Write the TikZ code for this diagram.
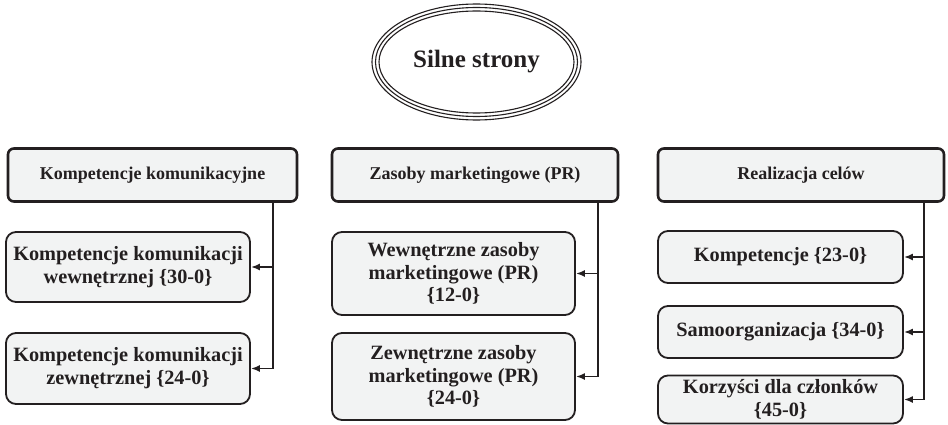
\documentclass[tikz,border=0pt]{standalone}
\usepackage{fontspec}
\setmainfont{Liberation Serif}
\usetikzlibrary{shapes.geometric,arrows.meta}
\definecolor{boxgray}{RGB}{242,243,243}
\definecolor{ink}{RGB}{35,31,32}

\begin{document}
\begin{tikzpicture}[x=1pt,y=-1pt,
  head/.style={rectangle,rounded corners=6pt,draw=ink,line width=2.6pt,fill=boxgray,
    minimum height=53pt,font=\bfseries\fontsize{18}{21}\selectfont,text=ink},
  item/.style={rectangle,rounded corners=10pt,draw=ink,line width=1.8pt,fill=boxgray,
    minimum width=244pt,align=center,inner ysep=1pt,font=\bfseries\fontsize{20.3}{22.8}\selectfont,text=ink},
  link/.style={draw=ink,line width=1.8pt,-{Latex[length=9pt,width=7pt]}}]
\useasboundingbox (0,0) rectangle (948,425);
% top
\node[ellipse,draw=ink,line width=1.1pt,minimum width=209pt,minimum height=116pt,
  font=\bfseries\fontsize{25}{28}\selectfont,text=ink] at (476.5,62) (silne) {Silne strony};
\draw[ink,line width=1.1pt] (silne.center) ellipse (101pt and 54.5pt);
\draw[ink,line width=1.1pt] (silne.center) ellipse (97.5pt and 51pt);
% headers
\node[head,minimum width=289pt] at (152.5,175) (komp) {Kompetencje komunikacyjne};
\node[head,minimum width=286pt] at (475,175) (zas) {Zasoby marketingowe (PR)};
\node[head,minimum width=286pt] at (801,175) (real) {Realizacja celów};
% left column
\node[item,minimum height=70pt] at (128,267) (kw) {Kompetencje komunikacji\\wewnętrznej \{30-0\}};
\node[item,minimum height=71pt] at (128,368.5) (kz) {Kompetencje komunikacji\\zewnętrznej \{24-0\}};
% middle column
\node[item,minimum width=243pt,minimum height=83pt] at (453.5,273.5) (zw) {Wewnętrzne zasoby\\marketingowe (PR)\\\{12-0\}};
\node[item,minimum width=243pt,minimum height=87pt] at (453.5,376.5) (zz) {Zewnętrzne zasoby\\marketingowe (PR)\\\{24-0\}};
% right column
\node[item,minimum width=245pt,minimum height=52pt] at (780.5,257) (rk) {Kompetencje \{23-0\}};
\node[item,minimum width=245pt,minimum height=52pt] at (780.5,332) (rs) {Samoorganizacja \{34-0\}};
\node[item,minimum width=245pt,minimum height=48pt] at (780.5,399.5) (rc) {Korzyści dla członków\\\{45-0\}};
% connectors
\coordinate (kompT) at (273,201);
\coordinate (zasT) at (598,201);
\coordinate (realT) at (924,201);
\draw[link] (kompT) |- (kw.east);
\draw[link] (kompT) |- (kz.east);
\draw[link] (zasT) |- (zw.east);
\draw[link] (zasT) |- (zz.east);
\draw[link] (realT) |- (rk.east);
\draw[link] (realT) |- (rs.east);
\draw[link] (realT) |- (rc.east);
\end{tikzpicture}
\end{document}
